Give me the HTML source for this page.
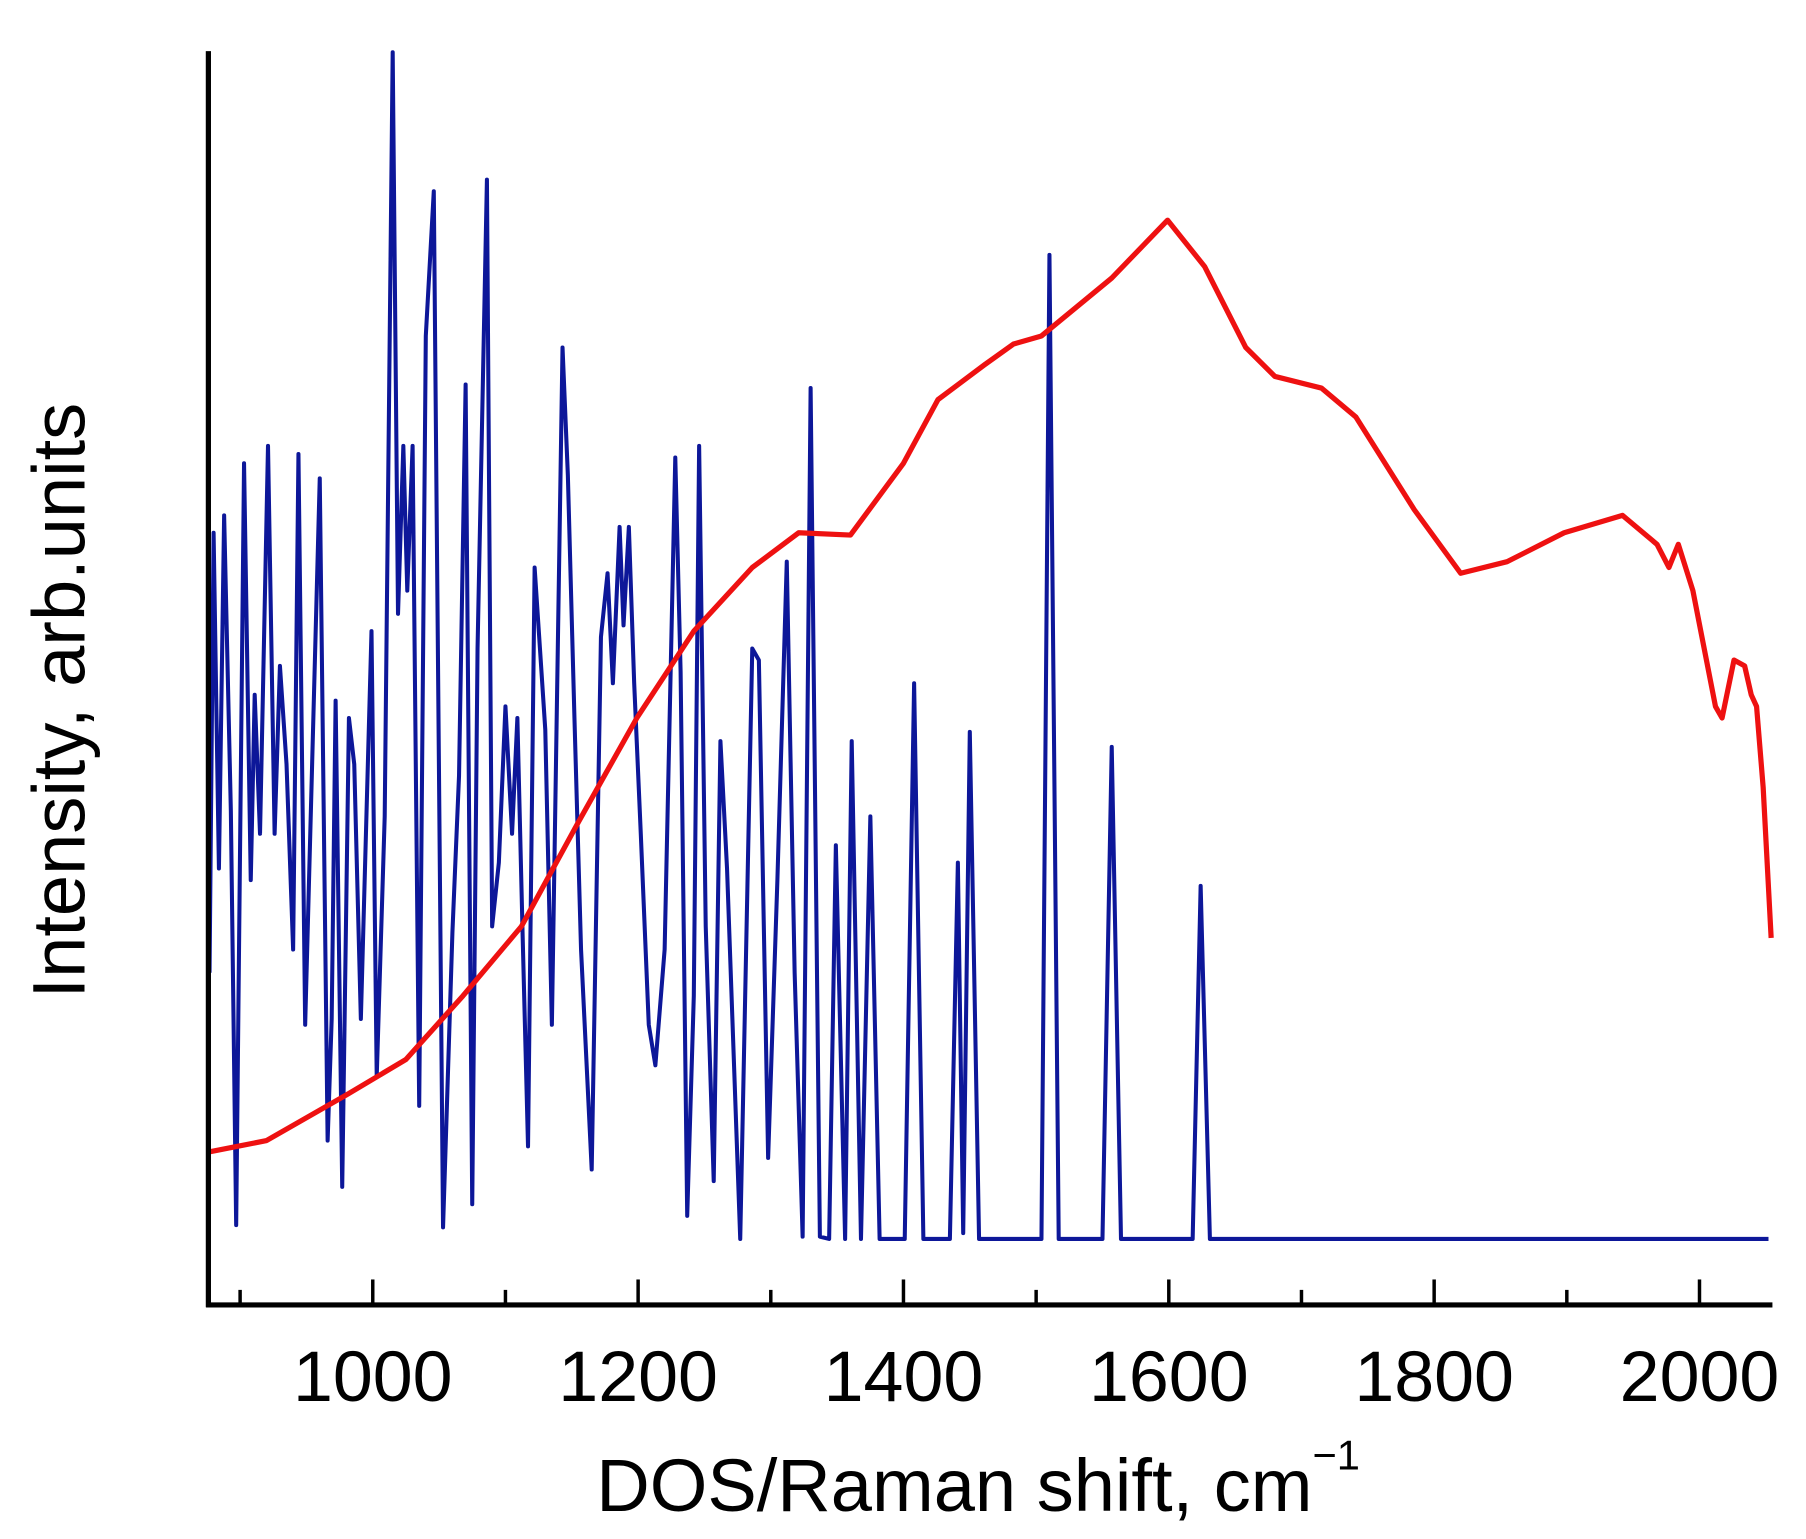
<!DOCTYPE html>
<html><head><meta charset="utf-8"><style>html,body{margin:0;padding:0;background:#fff}svg{display:block}</style></head>
<body>
<svg id="chart" width="1806" height="1539" viewBox="0 0 1560 1329" xmlns="http://www.w3.org/2000/svg" font-family="Liberation Sans, Arial, sans-serif">
<g id="plot"></g>
<text transform="translate(73,605) rotate(-90)" text-anchor="middle" font-size="64">Intensity, arb.units</text>
<text x="515" y="1305" font-size="64">DOS/Raman shift, cm<tspan dy="-36" font-size="36">−1</tspan></text>
</svg>
<script>
const xTicksMajor = [1000, 1200, 1400, 1600, 1800, 2000];
const xTicksMinor = [900, 1100, 1300, 1500, 1700, 1900];
const ramanX = [876,920,981,1025,1068,1112,1155,1199,1242,1286,1321,1360,1400,1426,1461,1483,1504,1557,1599,1627,1658,1680,1715,1741,1785,1820,1855,1898,1942,1968,1977,1984,1995,2012,2017,2026,2034,2039,2043,2048,2054];
const ramanY = [75,85,125,155,210,270,360,450,525,580,610,608,670,725,755,773,780,830,880,840,770,745,735,710,630,575,585,610,625,600,580,600,560,460,450,500,495,470,460,390,260];
const dosX = [877,880,884,888,893,897,903,908,911,915,921,926,930,935,940,944,949,960,966,969,972,977,982,986,991,999,1003,1009,1015,1019,1023,1026,1030,1035,1040,1046,1053,1060,1065,1070,1075,1079,1086,1090,1095,1100,1105,1109,1113,1117,1122,1126,1130,1135,1143,1147,1152,1157,1165,1172,1177,1181,1186,1189,1193,1197,1202,1208,1213,1220,1228,1232,1237,1242,1246,1251,1257,1262,1267,1277,1286,1291,1298,1305,1312,1318,1324,1330,1337,1344,1349,1356,1361,1368,1375,1382,1401,1408,1415,1435,1441,1445,1450,1457,1504,1510,1517,1550,1557,1564,1618,1624,1631,2052];
const dosY = [230,610,320,625,370,12,670,310,470,350,685,350,495,410,250,678,185,657,85,190,465,45,450,410,190,525,140,365,1025,540,685,560,685,115,780,905,10,265,400,738,30,510,915,270,325,460,350,450,260,80,580,510,440,185,770,660,450,250,60,520,575,480,615,530,615,480,350,185,150,250,675,490,20,210,685,270,50,430,320,0,510,500,70,310,585,230,2,735,2,0,340,0,430,0,365,0,0,480,0,0,325,5,438,0,0,850,0,0,425,0,0,305,0,0];

const NS='http://www.w3.org/2000/svg';
const plot=document.getElementById('plot');
const x0=322, pxPer=1.146, yBase=1070;
function xs(v){return x0+(v-1000)*pxPer;}
function ys(v){return yBase-v;}
function mk(tag,attrs){const e=document.createElementNS(NS,tag);for(const k in attrs)e.setAttribute(k,attrs[k]);plot.appendChild(e);return e;}

let d='';dosX.forEach((v,i)=>{d+=(i?'L':'M')+xs(v).toFixed(1)+' '+ys(dosY[i]).toFixed(1);});
const dos=mk('path',{d:d,fill:'none',stroke:'#0d1799','stroke-width':3.5,'stroke-linejoin':'round'});



d='';ramanX.forEach((v,i)=>{d+=(i?'L':'M')+xs(v).toFixed(1)+' '+ys(ramanY[i]).toFixed(1);});
const ram=mk('path',{d:d,fill:'none',stroke:'#ee1111','stroke-width':4.5,'stroke-linejoin':'round'});



const ya=mk('line',{x1:180,y1:44,x2:180,y2:1129,stroke:'#000','stroke-width':4.5});


const xa=mk('line',{x1:178,y1:1127,x2:1531,y2:1127,stroke:'#000','stroke-width':4.5});



xTicksMajor.forEach(v=>{
  const t=mk('line',{x1:xs(v),y1:1127,x2:xs(v),y2:1105,stroke:'#000','stroke-width':3});
  
  
  const l=mk('text',{x:xs(v),y:1210,'text-anchor':'middle','font-size':62});
  l.textContent=v;
  
  
});
xTicksMinor.forEach(v=>{
  const t=mk('line',{x1:xs(v),y1:1127,x2:xs(v),y2:1114,stroke:'#000','stroke-width':3});
  
  
});
</script>
</body></html>
